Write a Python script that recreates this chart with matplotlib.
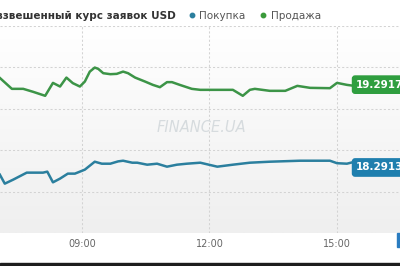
import numpy as np
import matplotlib
matplotlib.use("Agg")
import matplotlib.pyplot as plt
from matplotlib.lines import Line2D
from matplotlib.patches import Rectangle

# ── data ───────────────────────────────────────────────────────
sell_times = ["07:04", "07:21", "07:37", "07:51", "08:08", "08:19", "08:29", "08:38",
              "08:47", "08:57", "09:04", "09:11", "09:18", "09:23", "09:30", "09:40",
              "09:49", "09:58", "10:05", "10:15", "10:29", "10:40", "10:50", "11:00",
              "11:07", "11:18", "11:35", "11:47", "12:33", "12:47", "12:57", "13:04",
              "13:25", "13:47", "14:04", "14:22", "14:50", "15:00", "15:14", "15:21"]
sell_rates = [19.373, 19.241, 19.241, 19.205, 19.157, 19.313, 19.269, 19.377,
              19.310, 19.269, 19.329, 19.449, 19.498, 19.482, 19.430, 19.418,
              19.422, 19.449, 19.430, 19.377, 19.329, 19.289, 19.261, 19.322,
              19.322, 19.289, 19.241, 19.229, 19.229, 19.157, 19.229, 19.241,
              19.217, 19.217, 19.277, 19.253, 19.249, 19.313, 19.289, 19.281]

buy_times = ["07:04", "07:11", "07:23", "07:42", "08:05", "08:11", "08:19", "08:29",
             "08:40", "08:50", "09:04", "09:18", "09:28", "09:40", "09:51", "09:58",
             "10:11", "10:18", "10:32", "10:46", "11:00", "11:14", "11:28", "11:47",
             "12:11", "12:33", "12:57", "13:25", "14:08", "14:50", "15:00", "15:14",
             "15:21"]
buy_rates = [18.205, 18.096, 18.145, 18.229, 18.229, 18.241, 18.112, 18.157,
             18.217, 18.217, 18.265, 18.361, 18.337, 18.337, 18.365, 18.373,
             18.349, 18.349, 18.325, 18.337, 18.301, 18.325, 18.337, 18.349,
             18.301, 18.325, 18.349, 18.361, 18.373, 18.373, 18.343, 18.337,
             18.352]

last_sell = "19.2917"
last_buy = "18.2913"
tick_hours = [9, 12, 15]
tick_labels = ["09:00", "12:00", "15:00"]
title = "Средневзвешенный курс заявок USD"
legend_labels = ["Покупка", "Продажа"]

GREEN = "#3c9447"
GREEN_BOX = "#2f9e3f"
BLUE = "#2b7f9e"
BLUE_BOX = "#1f7fae"


def to_hours(times):
    return np.array([int(t[:2]) + int(t[3:]) / 60 for t in times])


fig = plt.figure(figsize=(4, 2.66), dpi=100)
ax = fig.add_axes([0, 33 / 266, 1, 207 / 266])

# gradient background of the plot area (white on top, light grey at the bottom)
grad = np.linspace(0.0, 1.0, 100).reshape(-1, 1)
ax.imshow(grad, extent=[0, 1, 0, 1], transform=ax.transAxes, aspect="auto",
          cmap=matplotlib.colors.LinearSegmentedColormap.from_list("bg", ["#ffffff", "#efefef"]),
          vmin=0, vmax=1, zorder=0)

ax.plot(to_hours(sell_times), sell_rates, color=GREEN, lw=1.8, zorder=3, solid_joinstyle="round")
ax.plot(to_hours(buy_times), buy_rates, color=BLUE, lw=1.8, zorder=3, solid_joinstyle="round")

ax.set_xlim(9 - 82 / 42.5, 9 + 318 / 42.5)
ax.set_ylim(17.5, 20.0)
ax.set_xticks(tick_hours)
ax.set_xticklabels(tick_labels, fontsize=7, color="#666666")
ax.set_yticks([18.0, 18.5, 19.0, 19.5, 20.0])
ax.set_yticklabels([])
ax.tick_params(length=0, pad=4)
ax.grid(True, color="#d3d3d3", lw=0.75, ls=(0, (2, 2)))
for s in ax.spines.values():
    s.set_visible(False)

# value labels at the line ends
x_lab = to_hours(["15:27"])[0]
for txt, col in [(last_sell, GREEN_BOX), (last_buy, BLUE_BOX)]:
    ax.text(x_lab, float(txt), txt, color="white", fontsize=7.5, fontweight="bold",
            va="center", ha="left", zorder=5, clip_on=False,
            bbox=dict(boxstyle="round,pad=0.35,rounding_size=0.25", fc=col, ec=col))

# watermark
fig.text(201 / 400, 1 - 128 / 266, "FINANCE.UA", fontsize=10.5, style="italic",
         color="#d6dbde", ha="center", va="center")

# title + legend
fig.text(176 / 400, 1 - 16 / 266, title, fontsize=7.5, fontweight="bold",
         color="#333333", ha="right", va="center")
handles = [Line2D([], [], marker="o", ls="none", color=BLUE, ms=3.2),
           Line2D([], [], marker="o", ls="none", color="#3a9a3a", ms=3.2)]
fig.legend(handles, legend_labels, loc="center left", bbox_to_anchor=(188 / 400, 1 - 16 / 266),
           ncol=2, frameon=False, fontsize=7.5, labelcolor="#555555",
           handlelength=0.7, handletextpad=0.4, columnspacing=1.3, borderpad=0, borderaxespad=0)

# bottom bar and navigator handle
fig.add_artist(Rectangle((0, 0), 1, 3 / 266, transform=fig.transFigure, color="#1e1e1e"))
fig.add_artist(Rectangle((397 / 400, 19 / 266), 3 / 400, 14 / 266,
                         transform=fig.transFigure, color="#2a7cc0"))

fig.savefig("out.png", dpi=100)
